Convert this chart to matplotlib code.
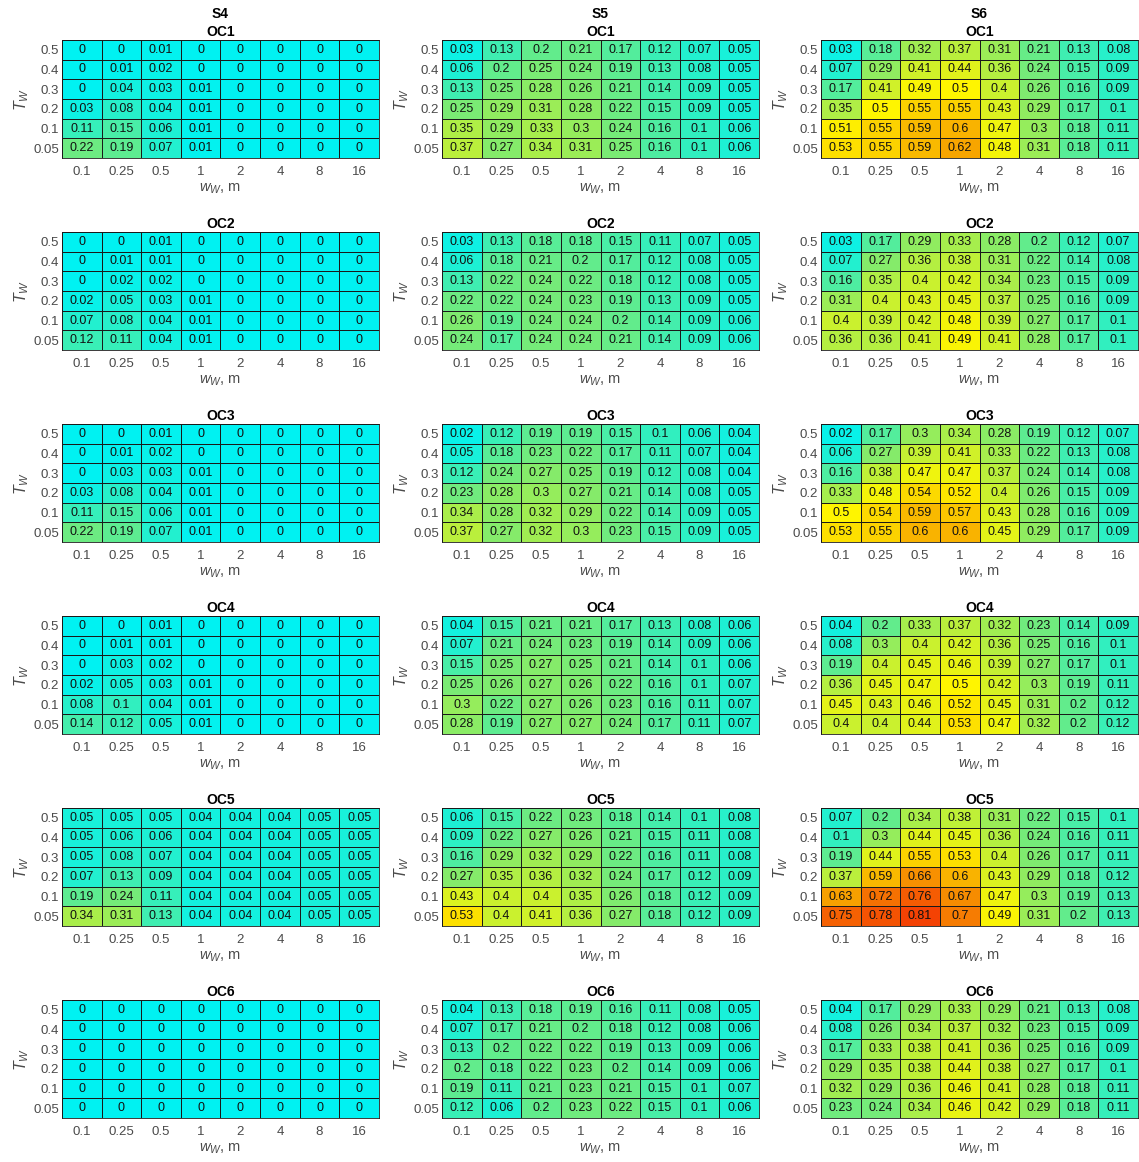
import numpy as np
import matplotlib
matplotlib.use('Agg')
import matplotlib.pyplot as plt
from matplotlib.colors import LinearSegmentedColormap

plt.rcParams['font.family'] = ['Liberation Sans', 'DejaVu Sans']
plt.rcParams['mathtext.fontset'] = 'custom'
plt.rcParams['mathtext.rm'] = 'Liberation Sans'
plt.rcParams['mathtext.it'] = 'Liberation Sans:italic'

w_labels = ['0.1', '0.25', '0.5', '1', '2', '4', '8', '16']
t_labels = ['0.5', '0.4', '0.3', '0.2', '0.1', '0.05']
scenarios = ['S4', 'S5', 'S6']
cases = ['OC1', 'OC2', 'OC3', 'OC4', 'OC5', 'OC6']

# rows top to bottom: T_W = 0.5 ... 0.05
s4_oc1 = [[0, 0, 0.01, 0, 0, 0, 0, 0],
          [0, 0.01, 0.02, 0, 0, 0, 0, 0],
          [0, 0.04, 0.03, 0.01, 0, 0, 0, 0],
          [0.03, 0.08, 0.04, 0.01, 0, 0, 0, 0],
          [0.11, 0.15, 0.06, 0.01, 0, 0, 0, 0],
          [0.22, 0.19, 0.07, 0.01, 0, 0, 0, 0]]
s4_oc2 = [[0, 0, 0.01, 0, 0, 0, 0, 0],
          [0, 0.01, 0.01, 0, 0, 0, 0, 0],
          [0, 0.02, 0.02, 0, 0, 0, 0, 0],
          [0.02, 0.05, 0.03, 0.01, 0, 0, 0, 0],
          [0.07, 0.08, 0.04, 0.01, 0, 0, 0, 0],
          [0.12, 0.11, 0.04, 0.01, 0, 0, 0, 0]]
s4_oc3 = [[0, 0, 0.01, 0, 0, 0, 0, 0],
          [0, 0.01, 0.02, 0, 0, 0, 0, 0],
          [0, 0.03, 0.03, 0.01, 0, 0, 0, 0],
          [0.03, 0.08, 0.04, 0.01, 0, 0, 0, 0],
          [0.11, 0.15, 0.06, 0.01, 0, 0, 0, 0],
          [0.22, 0.19, 0.07, 0.01, 0, 0, 0, 0]]
s4_oc4 = [[0, 0, 0.01, 0, 0, 0, 0, 0],
          [0, 0.01, 0.01, 0, 0, 0, 0, 0],
          [0, 0.03, 0.02, 0, 0, 0, 0, 0],
          [0.02, 0.05, 0.03, 0.01, 0, 0, 0, 0],
          [0.08, 0.1, 0.04, 0.01, 0, 0, 0, 0],
          [0.14, 0.12, 0.05, 0.01, 0, 0, 0, 0]]
s4_oc5 = [[0.05, 0.05, 0.05, 0.04, 0.04, 0.04, 0.05, 0.05],
          [0.05, 0.06, 0.06, 0.04, 0.04, 0.04, 0.05, 0.05],
          [0.05, 0.08, 0.07, 0.04, 0.04, 0.04, 0.05, 0.05],
          [0.07, 0.13, 0.09, 0.04, 0.04, 0.04, 0.05, 0.05],
          [0.19, 0.24, 0.11, 0.04, 0.04, 0.04, 0.05, 0.05],
          [0.34, 0.31, 0.13, 0.04, 0.04, 0.04, 0.05, 0.05]]
s4_oc6 = [[0, 0, 0, 0, 0, 0, 0, 0],
          [0, 0, 0, 0, 0, 0, 0, 0],
          [0, 0, 0, 0, 0, 0, 0, 0],
          [0, 0, 0, 0, 0, 0, 0, 0],
          [0, 0, 0, 0, 0, 0, 0, 0],
          [0, 0, 0, 0, 0, 0, 0, 0]]

s5_oc1 = [[0.03, 0.13, 0.2, 0.21, 0.17, 0.12, 0.07, 0.05],
          [0.06, 0.2, 0.25, 0.24, 0.19, 0.13, 0.08, 0.05],
          [0.13, 0.25, 0.28, 0.26, 0.21, 0.14, 0.09, 0.05],
          [0.25, 0.29, 0.31, 0.28, 0.22, 0.15, 0.09, 0.05],
          [0.35, 0.29, 0.33, 0.3, 0.24, 0.16, 0.1, 0.06],
          [0.37, 0.27, 0.34, 0.31, 0.25, 0.16, 0.1, 0.06]]
s5_oc2 = [[0.03, 0.13, 0.18, 0.18, 0.15, 0.11, 0.07, 0.05],
          [0.06, 0.18, 0.21, 0.2, 0.17, 0.12, 0.08, 0.05],
          [0.13, 0.22, 0.24, 0.22, 0.18, 0.12, 0.08, 0.05],
          [0.22, 0.22, 0.24, 0.23, 0.19, 0.13, 0.09, 0.05],
          [0.26, 0.19, 0.24, 0.24, 0.2, 0.14, 0.09, 0.06],
          [0.24, 0.17, 0.24, 0.24, 0.21, 0.14, 0.09, 0.06]]
s5_oc3 = [[0.02, 0.12, 0.19, 0.19, 0.15, 0.1, 0.06, 0.04],
          [0.05, 0.18, 0.23, 0.22, 0.17, 0.11, 0.07, 0.04],
          [0.12, 0.24, 0.27, 0.25, 0.19, 0.12, 0.08, 0.04],
          [0.23, 0.28, 0.3, 0.27, 0.21, 0.14, 0.08, 0.05],
          [0.34, 0.28, 0.32, 0.29, 0.22, 0.14, 0.09, 0.05],
          [0.37, 0.27, 0.32, 0.3, 0.23, 0.15, 0.09, 0.05]]
s5_oc4 = [[0.04, 0.15, 0.21, 0.21, 0.17, 0.13, 0.08, 0.06],
          [0.07, 0.21, 0.24, 0.23, 0.19, 0.14, 0.09, 0.06],
          [0.15, 0.25, 0.27, 0.25, 0.21, 0.14, 0.1, 0.06],
          [0.25, 0.26, 0.27, 0.26, 0.22, 0.16, 0.1, 0.07],
          [0.3, 0.22, 0.27, 0.26, 0.23, 0.16, 0.11, 0.07],
          [0.28, 0.19, 0.27, 0.27, 0.24, 0.17, 0.11, 0.07]]
s5_oc5 = [[0.06, 0.15, 0.22, 0.23, 0.18, 0.14, 0.1, 0.08],
          [0.09, 0.22, 0.27, 0.26, 0.21, 0.15, 0.11, 0.08],
          [0.16, 0.29, 0.32, 0.29, 0.22, 0.16, 0.11, 0.08],
          [0.27, 0.35, 0.36, 0.32, 0.24, 0.17, 0.12, 0.09],
          [0.43, 0.4, 0.4, 0.35, 0.26, 0.18, 0.12, 0.09],
          [0.53, 0.4, 0.41, 0.36, 0.27, 0.18, 0.12, 0.09]]
s5_oc6 = [[0.04, 0.13, 0.18, 0.19, 0.16, 0.11, 0.08, 0.05],
          [0.07, 0.17, 0.21, 0.2, 0.18, 0.12, 0.08, 0.06],
          [0.13, 0.2, 0.22, 0.22, 0.19, 0.13, 0.09, 0.06],
          [0.2, 0.18, 0.22, 0.23, 0.2, 0.14, 0.09, 0.06],
          [0.19, 0.11, 0.21, 0.23, 0.21, 0.15, 0.1, 0.07],
          [0.12, 0.06, 0.2, 0.23, 0.22, 0.15, 0.1, 0.06]]

s6_oc1 = [[0.03, 0.18, 0.32, 0.37, 0.31, 0.21, 0.13, 0.08],
          [0.07, 0.29, 0.41, 0.44, 0.36, 0.24, 0.15, 0.09],
          [0.17, 0.41, 0.49, 0.5, 0.4, 0.26, 0.16, 0.09],
          [0.35, 0.5, 0.55, 0.55, 0.43, 0.29, 0.17, 0.1],
          [0.51, 0.55, 0.59, 0.6, 0.47, 0.3, 0.18, 0.11],
          [0.53, 0.55, 0.59, 0.62, 0.48, 0.31, 0.18, 0.11]]
s6_oc2 = [[0.03, 0.17, 0.29, 0.33, 0.28, 0.2, 0.12, 0.07],
          [0.07, 0.27, 0.36, 0.38, 0.31, 0.22, 0.14, 0.08],
          [0.16, 0.35, 0.4, 0.42, 0.34, 0.23, 0.15, 0.09],
          [0.31, 0.4, 0.43, 0.45, 0.37, 0.25, 0.16, 0.09],
          [0.4, 0.39, 0.42, 0.48, 0.39, 0.27, 0.17, 0.1],
          [0.36, 0.36, 0.41, 0.49, 0.41, 0.28, 0.17, 0.1]]
s6_oc3 = [[0.02, 0.17, 0.3, 0.34, 0.28, 0.19, 0.12, 0.07],
          [0.06, 0.27, 0.39, 0.41, 0.33, 0.22, 0.13, 0.08],
          [0.16, 0.38, 0.47, 0.47, 0.37, 0.24, 0.14, 0.08],
          [0.33, 0.48, 0.54, 0.52, 0.4, 0.26, 0.15, 0.09],
          [0.5, 0.54, 0.59, 0.57, 0.43, 0.28, 0.16, 0.09],
          [0.53, 0.55, 0.6, 0.6, 0.45, 0.29, 0.17, 0.09]]
s6_oc4 = [[0.04, 0.2, 0.33, 0.37, 0.32, 0.23, 0.14, 0.09],
          [0.08, 0.3, 0.4, 0.42, 0.36, 0.25, 0.16, 0.1],
          [0.19, 0.4, 0.45, 0.46, 0.39, 0.27, 0.17, 0.1],
          [0.36, 0.45, 0.47, 0.5, 0.42, 0.3, 0.19, 0.11],
          [0.45, 0.43, 0.46, 0.52, 0.45, 0.31, 0.2, 0.12],
          [0.4, 0.4, 0.44, 0.53, 0.47, 0.32, 0.2, 0.12]]
s6_oc5 = [[0.07, 0.2, 0.34, 0.38, 0.31, 0.22, 0.15, 0.1],
          [0.1, 0.3, 0.44, 0.45, 0.36, 0.24, 0.16, 0.11],
          [0.19, 0.44, 0.55, 0.53, 0.4, 0.26, 0.17, 0.11],
          [0.37, 0.59, 0.66, 0.6, 0.43, 0.29, 0.18, 0.12],
          [0.63, 0.72, 0.76, 0.67, 0.47, 0.3, 0.19, 0.13],
          [0.75, 0.78, 0.81, 0.7, 0.49, 0.31, 0.2, 0.13]]
s6_oc6 = [[0.04, 0.17, 0.29, 0.33, 0.29, 0.21, 0.13, 0.08],
          [0.08, 0.26, 0.34, 0.37, 0.32, 0.23, 0.15, 0.09],
          [0.17, 0.33, 0.38, 0.41, 0.36, 0.25, 0.16, 0.09],
          [0.29, 0.35, 0.38, 0.44, 0.38, 0.27, 0.17, 0.1],
          [0.32, 0.29, 0.36, 0.46, 0.41, 0.28, 0.18, 0.11],
          [0.23, 0.24, 0.34, 0.46, 0.42, 0.29, 0.18, 0.11]]

panels = [[s4_oc1, s5_oc1, s6_oc1],
          [s4_oc2, s5_oc2, s6_oc2],
          [s4_oc3, s5_oc3, s6_oc3],
          [s4_oc4, s5_oc4, s6_oc4],
          [s4_oc5, s5_oc5, s6_oc5],
          [s4_oc6, s5_oc6, s6_oc6]]

# cyan -> light green -> yellow -> orange -> red, like the upper half of jet
vmax = 0.88
cmap = LinearSegmentedColormap.from_list(
    'cy_rd', [(0, (0.0, 0.95, 0.95)), (0.25 / vmax, (0.48, 0.92, 0.45)),
              (0.5 / vmax, (1.0, 0.96, 0.0)), (0.62 / vmax, (0.97, 0.65, 0.0)),
              (1, (0.95, 0.12, 0.02))])

W, H = 1139, 1162
fig = plt.figure(figsize=(W / 100, H / 100), dpi=100)

lefts = [62, 442, 821]
tops = [40, 232, 424, 616, 808, 1000]
aw, ah = 317, 118
grey = '#4a4a4a'

for r in range(6):
    for c in range(3):
        data = np.array(panels[r][c])
        ax = fig.add_axes([lefts[c] / W, 1 - (tops[r] + ah) / H, aw / W, ah / H])
        ax.pcolormesh(data, cmap=cmap, vmin=0, vmax=vmax,
                      edgecolors='#1a1a1a', linewidth=0.55)
        ax.set_xlim(0, 8)
        ax.set_ylim(6, 0)
        for i in range(6):
            for j in range(8):
                ax.text(j + 0.5, i + 0.5, f'{data[i, j]:g}', ha='center',
                        va='center', fontsize=9, color='#111111')
        ax.set_xticks(np.arange(8) + 0.5, w_labels)
        ax.set_yticks(np.arange(6) + 0.5, t_labels)
        ax.tick_params(axis='both', length=0, labelsize=9.5, colors=grey)
        ax.tick_params(axis='x', pad=6)
        ax.tick_params(axis='y', pad=2)
        for sp in ax.spines.values():
            sp.set_color('#1a1a1a')
            sp.set_linewidth(0.6)
        ax.set_xlabel(r'$w_W$, m', fontsize=10.5, color=grey)
        ax.xaxis.set_label_coords(0.5, -24 / ah)
        ax.set_ylabel(r'$T_W$', fontsize=11.5, color=grey)
        ax.yaxis.set_label_coords(-31 / aw, 0.5)
        title = cases[r]
        if r == 0:
            title = scenarios[c] + '\n' + cases[r]
        ax.set_title(title, fontsize=10, fontweight='bold', pad=3,
                     linespacing=1.35)

fig.savefig('out.png', dpi=100)
